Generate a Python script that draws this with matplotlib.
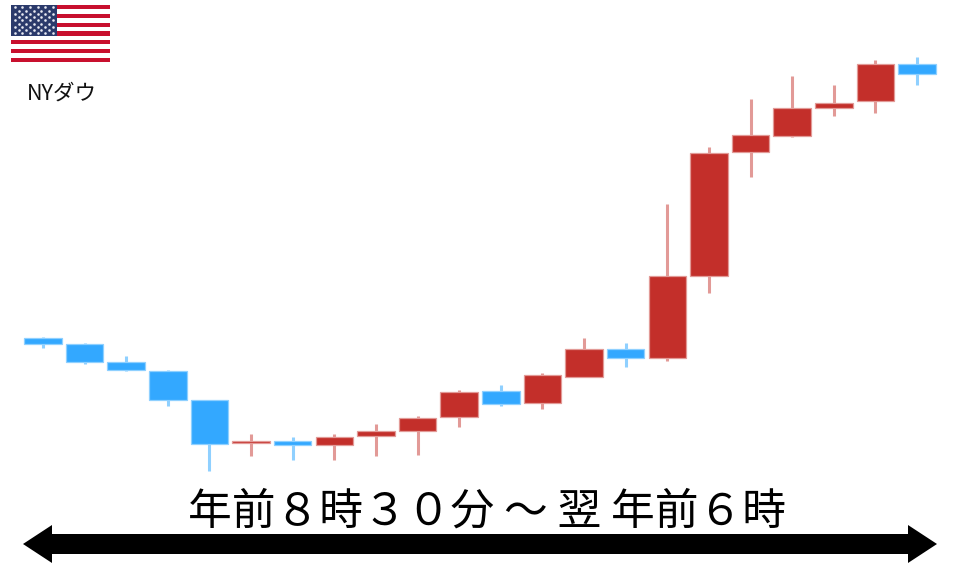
import matplotlib
matplotlib.use("Agg")
import matplotlib.pyplot as plt
from matplotlib.patches import Polygon, Rectangle
import numpy as np

plt.rcParams['font.family'] = ['Noto Sans CJK JP', 'DejaVu Sans']

# Price levels (arbitrary index units, larger = higher)
opens  = [229, 223, 205, 196, 167, 124, 126, 122, 131, 136, 150, 176, 164, 190, 218, 209, 291, 415, 431, 459, 466, 503]
closes = [223, 205, 197, 167, 123, 126, 122, 130, 136, 149, 175, 163, 192, 218, 209, 291, 414, 432, 459, 464, 503, 493]
highs  = [230, 224, 211, 197, 167, 133, 130, 133, 143, 151, 177, 182, 194, 229, 224, 363, 420, 468, 491, 482, 507, 510]
lows   = [219, 203, 196, 161,  96, 111, 107, 107, 111, 112, 140, 161, 158, 190, 200, 206, 274, 390, 430, 451, 454, 482]

period_label = "年前８時３０分 ～ 翌 年前６時"
market_label = "NYダウ"

RED, BLUE = "#C32F2A", "#33A8FF"
RED_SOFT, BLUE_SOFT = "#E29A97", "#8FD0FF"

fig = plt.figure(figsize=(9.6, 5.67), dpi=100, facecolor="white")

# Candles
ax = fig.add_axes([0, 0, 1, 1])
step = 41.62
ax.set_xlim(-43 / step, (960 - 43) / step)
ax.set_ylim(-0.5, 566.5)
ax.axis("off")

xs = np.arange(len(opens))
o, c, h, l = map(np.array, (opens, closes, highs, lows))
up = c > o
soft = [RED_SOFT if u else BLUE_SOFT for u in up]
solid = [RED if u else BLUE for u in up]
ax.vlines(xs, l, h, colors=soft, linewidth=2.2, zorder=1)
ax.bar(xs, np.abs(c - o), bottom=np.minimum(o, c), width=37.5 / step,
       color=solid, edgecolor=soft, linewidth=0.9, zorder=2)

# Annotation layer in pixel space
an = fig.add_axes([0, 0, 1, 1])
an.set_xlim(0, 960)
an.set_ylim(567, 0)
an.axis("off")
an.patch.set_alpha(0)

# Double-headed arrow
an.add_patch(Polygon([(23, 544), (52, 525), (52, 534), (908, 534), (908, 525),
                      (937, 544), (908, 563), (908, 554), (52, 554), (52, 563)],
                     closed=True, facecolor="black", edgecolor="none"))
an.text(487, 512, period_label, ha="center", va="center", fontsize=31.5, color="black")
an.text(62, 93.5, market_label, ha="center", va="center", fontsize=15.5, color="#111111")

# Flag
fx, fy, fw, fh = 11, 5, 99, 57
sh = fh / 13
for i in range(13):
    an.add_patch(Rectangle((fx, fy + i * sh), fw, sh,
                           facecolor="#C8102E" if i % 2 == 0 else "white", edgecolor="none"))
an.add_patch(Rectangle((fx, fy), fw * 0.46, sh * 7, facecolor="#2B3A6B", edgecolor="none"))
sx, sy = [], []
for r in range(9):
    n = 6 if r % 2 == 0 else 5
    off = 0 if r % 2 == 0 else 0.5
    for k in range(n):
        sx.append(fx + (k + off + 0.5) * fw * 0.46 / 6)
        sy.append(fy + (r + 0.75) * sh * 7 / 9.5)
an.scatter(sx, sy, s=3.5, color="#E8EAF2", linewidths=0, zorder=5)

fig.savefig("out.png", dpi=100, facecolor="white")
